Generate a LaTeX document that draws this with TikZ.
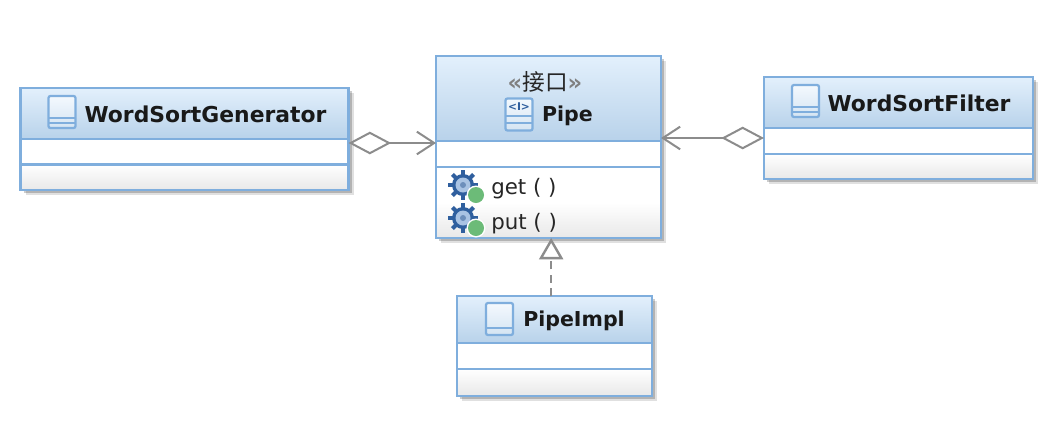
\documentclass[tikz,border=0pt]{standalone}
\usepackage{fontspec}
\setsansfont{DejaVu Sans}
\newfontfamily\cjk{Noto Sans CJK SC}
\usetikzlibrary{positioning,arrows.meta,shadows}
\definecolor{boxline}{HTML}{7FAEDD}
\definecolor{headtop}{HTML}{E3F0FC}
\definecolor{headbot}{HTML}{B8D2EA}
\definecolor{linkgray}{HTML}{8C8C8C}
\definecolor{gearblue}{HTML}{2F5F9E}
\definecolor{gearlight}{HTML}{A9C3E3}
\definecolor{ballgreen}{HTML}{6CBB78}
\newcommand{\iconframe}{
    \draw[boxline, line width=1.7pt, rounded corners=1.5pt, top color=headtop!40, bottom color=headbot!60] (-13.5,-16) rectangle (13.5,16);
}
\tikzset{
    classbox/.style={draw=boxline, line width=1.8pt, fill=white, outer sep=0pt, inner sep=0pt, anchor=north west,
        drop shadow={shadow xshift=4pt, shadow yshift=-4pt, opacity=0.12, fill=black},
        drop shadow={shadow xshift=2.5pt, shadow yshift=-2.5pt, opacity=0.2, fill=black}},
    headbox/.style={draw=boxline, line width=1.8pt, top color=headtop, bottom color=headbot, outer sep=0pt, inner sep=0pt},
    attrbox/.style={draw=boxline, line width=1.8pt, fill=white, outer sep=0pt, inner sep=0pt},
    opbox/.style={draw=boxline, line width=1.8pt, top color=white, bottom color=black!9, outer sep=0pt, inner sep=0pt},
    classname/.style={font=\sffamily\bfseries\fontsize{15.4}{20}\selectfont, text=black!90, inner sep=0pt},
    widename/.style={classname, font=\sffamily\bfseries\fontsize{16.4}{20}\selectfont},
    oplabel/.style={font=\sffamily\fontsize{16}{20}\selectfont, text=black!85, inner sep=0pt, anchor=west},
    link/.style={draw=linkgray, line width=1.5pt},
    classicon/.pic={
        \iconframe
        \draw[boxline, line width=1.5pt] (-13.5,6) -- (13.5,6) (-13.5,11) -- (13.5,11);
    },
    implicon/.pic={
        \iconframe
        \draw[boxline, line width=1.5pt] (-13.5,9) -- (13.5,9);
    },
    ifaceicon/.pic={
        \iconframe
        \draw[boxline, line width=1.5pt] (-13.5,1) -- (13.5,1) (-13.5,8) -- (13.5,8);
        \node[font=\sffamily\bfseries\fontsize{8}{8}\selectfont, text=gearblue, inner sep=0pt] (ifacemark) at (0,-8) {<I>};
    },
    gearicon/.pic={
        \foreach \a in {0,45,...,315}
            \draw[gearblue, line width=3pt] (\a:9) -- (\a:15);
        \fill[gearblue] (0,0) circle (11);
        \fill[gearlight] (0,0) circle (7.5);
        \fill[gearblue!70] (0,0) circle (3);
        \fill[white] (13,10) circle (9.5);
        \fill[ballgreen] (13,10) circle (8);
    },
}
\begin{document}
\begin{tikzpicture}[x=0.75pt,y=-0.75pt]
    \useasboundingbox (0,0) rectangle (1062,430);
    % generator class
    \node[classbox, minimum width=246pt, minimum height=76.5pt] (gen) at (20.5,88) {};
    \node[headbox, minimum width=246pt, minimum height=38.25pt, below=0pt of gen.north] (genhead) {};
    \node[attrbox, minimum width=246pt, minimum height=19.1pt, below=0pt of genhead] (genattr) {};
    \node[opbox, minimum width=246pt, minimum height=19.15pt, below=0pt of genattr] (genop) {};
    \node[widename] (gentext) at (205.5,114) {WordSortGenerator};
    \pic at (62,112) {classicon};
    % interface
    \node[classbox, minimum width=168.75pt, minimum height=136.5pt] (pipe) at (436,56) {};
    \node[headbox, minimum width=168.75pt, minimum height=63.75pt, below=0pt of pipe.north] (pipehead) {};
    \node[attrbox, minimum width=168.75pt, minimum height=19.5pt, below=0pt of pipehead] (pipeattr) {};
    \node[opbox, middle color=white, minimum width=168.75pt, minimum height=53.25pt, below=0pt of pipeattr] (pipeop) {};
    \node[font=\sffamily\fontsize{17}{20}\selectfont, text=black!85, inner sep=0pt] (pipetag) at (545,82) {\textcolor{black!50}{\textbf{«}}{\cjk 接口}\textcolor{black!50}{\textbf{»}}};
    \node[classname] (pipetext) at (567.5,116) {Pipe};
    \pic at (519,114.5) {ifaceicon};
    \node[oplabel] (getlabel) at (491,189) {get ( )};
    \node[oplabel] (putlabel) at (491,224) {put ( )};
    \pic at (463,185) {gearicon};
    \pic at (463,218) {gearicon};
    % filter class
    \node[classbox, minimum width=201.75pt, minimum height=76.5pt] (filter) at (764,77) {};
    \node[headbox, minimum width=201.75pt, minimum height=38.25pt, below=0pt of filter.north] (filterhead) {};
    \node[attrbox, minimum width=201.75pt, minimum height=19.5pt, below=0pt of filterhead] (filterattr) {};
    \node[opbox, minimum width=201.75pt, minimum height=18.75pt, below=0pt of filterattr] (filterop) {};
    \node[widename] (filtertext) at (919,103) {WordSortFilter};
    \pic at (805.5,101) {classicon};
    % impl class
    \node[classbox, minimum width=146.25pt, minimum height=75pt] (impl) at (457,296) {};
    \node[headbox, minimum width=146.25pt, minimum height=35.25pt, below=0pt of impl.north] (implhead) {};
    \node[attrbox, minimum width=146.25pt, minimum height=19.5pt, below=0pt of implhead] (implattr) {};
    \node[opbox, minimum width=146.25pt, minimum height=20.25pt, below=0pt of implattr] (implop) {};
    \node[classname] (impltext) at (574,321) {PipeImpl};
    \pic at (499.5,319) {implicon};
    % links
    \draw[link, {Diamond[open,length=32pt,width=17pt]}-{Straight Barb[length=13pt,width=17pt]}]
        ([yshift=-3pt]genhead.south east) -- ([yshift=-1.5pt]pipehead.south west);
    \draw[link, {Straight Barb[length=13pt,width=17pt]}-{Diamond[open,length=32pt,width=17pt]}]
        ([yshift=2.25pt]pipehead.south east) -- ([yshift=-7.5pt]filterhead.south west);
    \draw[link, line width=1.8pt, dash pattern=on 6pt off 4pt, -{Triangle[open,length=16pt,width=18pt]}]
        ([xshift=-2.5pt]implhead.north) -- ([xshift=-2.5pt]implhead.north |- pipeop.south);
\end{tikzpicture}
\end{document}
